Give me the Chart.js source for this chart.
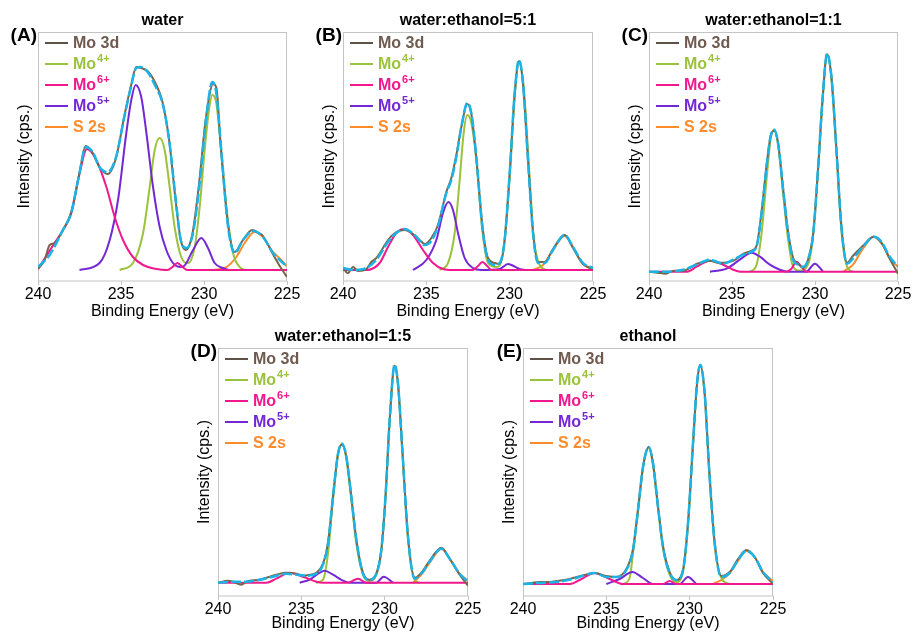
<!DOCTYPE html>
<html>
<head>
<meta charset="utf-8">
<script src="https://cdn.jsdelivr.net/npm/chart.js@4.4.1/dist/chart.umd.min.js"></script>
<style>
body { margin: 0; width: 913px; height: 633px; background: #fff; position: relative; overflow: hidden; font-family: "Liberation Sans", Arial, sans-serif; }
canvas { position: absolute; }
.letter { position: absolute; font-weight: bold; font-size: 19px; line-height: 19px; text-align: right; width: 40px; color: #000; }
.ttl { position: absolute; font-weight: bold; font-size: 16px; line-height: 20px; text-align: center; width: 300px; color: #000; white-space: nowrap; }
.leg { position: absolute; font-weight: bold; font-size: 16px; }
.leg .row { height: 20.8px; display: flex; align-items: center; white-space: nowrap; }
.leg .ln { display: inline-block; width: 23px; height: 2px; margin-right: 5px; }
.leg sup { font-size: 11px; vertical-align: 0; position: relative; top: -7px; margin-left: 1px; }
</style>
</head>
<body>
<script>
// x ticks (binding energy, eV) and series names
const energyTicks = [240, 235, 230, 225];
const seriesNames = ['Mo 3d', 'Mo4+', 'Mo6+', 'Mo5+', 'S 2s'];

// values: [binding energy, intensity above baseline]

// (A) water
const aEnv = [[240,3],[239.3,15],[238.5,40],[238,57],[237.5,97],[237.13,123],[236.7,118],[236.3,103],[235.8,98],[235.3,113],[234.8,153],[234.4,183],[234.08,202],[233.8,203],[233.4,198],[232.9,183],[232.5,167],[232.1,130],[231.7,70],[231.4,30],[231.06,22],[230.66,37],[230.26,87],[229.86,153],[229.5,188],[229.26,177],[228.96,120],[228.55,43],[228.15,17],[227.65,30],[227.05,39],[226.45,33],[225.84,17],[225.04,4]];
const aRaw = [[240,1],[239.6,10],[239.3,25],[239,27],[238.5,40],[238,58],[237.5,97],[237.13,124],[236.7,117],[236.3,103],[235.8,96],[235.3,112],[234.8,154],[234.4,184],[234.08,203],[233.8,202],[233.4,199],[232.9,186],[232.5,168],[232.1,130],[231.7,68],[231.4,30],[231.1,20],[230.7,36],[230.3,86],[229.9,150],[229.45,186],[229.25,182],[229,125],[228.55,45],[228.15,18],[227.65,30],[227.1,40],[226.7,37],[226.45,34],[225.85,16],[225.4,3],[225,-7]];
const aMo4 = [[235.08,0],[234.28,7],[233.67,37],[233.27,83],[232.97,120],[232.67,132],[232.37,120],[232.07,83],[231.77,43],[231.37,13],[230.96,7],[230.56,23],[230.26,63],[229.96,120],[229.7,160],[229.5,175],[229.26,167],[228.96,120],[228.65,63],[228.25,17],[227.85,3],[227.55,0]];
const aMo6 = [[240,1],[239.5,14],[239,27],[238.49,40],[237.99,57],[237.49,97],[237.05,121],[236.49,110],[235.88,83],[235.38,53],[234.88,30],[234.28,13],[233.67,5],[232.87,1],[232.2,0],[231.9,3],[231.6,7],[231.3,3],[231.0,0],[225,0]];
const aMo5 = [[237.5,0],[236.29,7],[235.68,30],[235.18,70],[234.68,137],[234.38,170],[234.12,185],[233.78,173],[233.47,137],[233.07,83],[232.67,43],[232.27,20],[231.87,7],[231.47,3],[231.2,4],[230.66,20],[230.16,32],[229.76,22],[229.36,7],[228.86,2],[228.5,0]];
const aS2s = [[229.46,0],[228.65,3],[228.05,13],[227.55,27],[226.95,38],[226.45,33],[225.94,20],[225.34,10],[225.04,4]];

// (B) water:ethanol=5:1
const bEnv = [[240,2],[239.4,0],[238.6,2],[238,10],[237.3,28],[236.8,37],[236.3,41],[235.7,35],[235.1,25],[234.7,29],[234.3,44],[233.8,77],[233.5,90],[233.2,113],[232.9,143],[232.54,167],[232.3,157],[232,113],[231.64,43],[231.3,10],[230.9,5],[230.6,7],[230.3,30],[230,97],[229.7,177],[229.44,210],[229.2,187],[228.9,110],[228.6,37],[228.3,7],[227.9,7],[227.4,20],[226.7,35],[226.2,23],[225.6,7],[225,2]];
const bRaw = [[240,2],[239.7,-3],[239.4,3],[239.1,-1],[238.6,1],[238.3,8],[238,12],[237.6,22],[237.3,30],[236.8,38],[236.3,40],[235.8,36],[235.4,30],[235.1,26],[234.7,32],[234.3,45],[233.8,78],[233.5,92],[233.2,115],[232.9,143],[232.54,166],[232.3,156],[232,112],[231.64,45],[231.3,12],[230.9,7],[230.6,6],[230.3,30],[230,96],[229.7,176],[229.44,209],[229.2,186],[228.9,110],[228.6,38],[228.3,8],[227.9,8],[227.4,21],[226.7,35],[226.2,22],[225.6,6],[225,1]];
const bMo4 = [[234.2,0],[233.7,7],[233.3,37],[233,90],[232.76,137],[232.54,155],[232.3,147],[232,110],[231.64,40],[231.3,7],[230.8,3],[230.4,17],[230,93],[229.7,173],[229.44,208],[229.16,183],[228.84,103],[228.56,33],[228.2,5],[227.8,0]];
const bMo6 = [[240,0],[238.6,0],[237.8,7],[237.3,23],[236.8,37],[236.3,41],[235.8,35],[235.2,20],[234.6,7],[234,1],[233.4,0],[232.2,0],[231.9,4],[231.64,8],[231.35,4],[231.1,0],[225,0]];
const bMo5 = [[235.8,0],[235,10],[234.4,30],[234,57],[233.68,68],[233.4,60],[233.1,37],[232.7,12],[232.2,2],[231.7,0],[230.6,1],[230.1,6],[229.4,1],[229,0]];
const bS2s = [[228.6,0],[228,5],[227.4,20],[226.7,34],[226.2,23],[225.7,8],[225.2,2],[225,1]];

// (C) water:ethanol=1:1
const cEnv = [[240,0],[238.94,0],[237.93,2],[237.13,7],[236.33,12],[235.53,8],[234.93,12],[234.33,17],[233.82,20],[233.52,25],[233.22,58],[232.92,105],[232.68,135],[232.46,142],[232.22,128],[231.92,82],[231.62,38],[231.32,12],[231.02,7],[230.72,5],[230.42,12],[230.11,38],[229.81,105],[229.55,172],[229.27,218],[229.01,195],[228.71,122],[228.41,45],[228.07,8],[227.71,13],[227.11,25],[226.46,35],[226,30],[225.5,15],[225,5]];
const cRaw = [[240,0],[239.5,-1],[239,-2],[238.5,1],[237.9,1],[237.5,4],[237.1,8],[236.3,11],[235.9,9],[235.5,9],[234.9,11],[234.3,18],[233.82,21],[233.52,26],[233.22,60],[232.92,106],[232.68,135],[232.46,141],[232.22,128],[231.92,83],[231.62,40],[231.32,14],[231.02,8],[230.72,4],[230.42,12],[230.11,38],[229.81,104],[229.55,171],[229.27,217],[229.01,195],[228.71,123],[228.41,46],[228.07,9],[227.71,16],[227.11,26],[226.46,35],[226,29],[225.5,13],[225,-2]];
const cMo4 = [[233.96,0],[233.56,5],[233.22,38],[232.92,92],[232.68,132],[232.46,142],[232.22,127],[231.92,78],[231.62,32],[231.32,5],[230.92,1],[230.42,7],[230.11,37],[229.81,103],[229.55,170],[229.27,218],[229.01,193],[228.71,120],[228.41,42],[228.07,5],[227.71,0]];
const cMo6 = [[240,0],[237.7,0],[237.13,5],[236.33,11],[235.53,7],[234.93,2],[234.5,0],[231.72,0],[231.42,3],[231.12,10],[230.82,5],[230.52,0],[225,0]];
const cMo5 = [[236.33,0],[235.33,3],[234.53,12],[233.82,19],[233.32,15],[232.72,7],[232.12,2],[231.6,0],[230.52,0],[230.01,8],[229.51,0]];
const cS2s = [[228.31,0],[227.71,7],[227.11,23],[226.46,35],[225.94,27],[225.44,12],[225,5]];

// (D) water:ethanol=1:5
const dEnv = [[240,0],[239.1,1],[238.3,1],[237.5,3],[236.7,6],[235.9,9],[235.3,8],[234.7,7],[234.1,9],[233.7,18],[233.4,39],[233.1,86],[232.8,129],[232.56,139],[232.3,126],[232,86],[231.7,43],[231.3,9],[230.9,3],[230.5,9],[230.2,33],[229.94,89],[229.7,163],[229.4,218],[229.2,199],[228.94,133],[228.6,46],[228.2,4],[227.8,9],[227.3,21],[226.6,34],[226.1,24],[225.5,9],[225,1]];
const dRaw = [[240,0],[239.4,2],[239.1,1],[238.6,-2],[238.3,1],[237.5,3],[236.9,6],[236.5,8],[235.9,10],[235.3,9],[234.9,7],[234.5,8],[234.1,10],[233.7,19],[233.4,40],[233.1,86],[232.8,129],[232.56,138],[232.3,126],[232,86],[231.7,43],[231.3,10],[230.9,3],[230.5,9],[230.2,33],[229.94,89],[229.7,163],[229.4,217],[229.2,199],[228.94,133],[228.6,46],[228.2,5],[227.8,10],[227.3,22],[226.6,35],[226.1,24],[225.5,8],[225,-3]];
const dMo4 = [[234.1,0],[233.7,3],[233.4,29],[233.1,83],[232.8,128],[232.56,139],[232.3,124],[232,83],[231.7,39],[231.3,8],[230.9,2],[230.5,8],[230.2,31],[229.94,88],[229.7,161],[229.4,217],[229.2,198],[228.94,131],[228.6,44],[228.2,3],[227.9,0]];
const dMo6 = [[240,0],[237.1,0],[236.5,4],[235.7,10],[234.9,6],[234.1,1],[233.7,0],[232.2,0],[231.6,4],[231.1,0],[225,0]];
const dMo5 = [[235.1,0],[234.5,3],[233.9,10],[233.6,12],[233.1,8],[232.5,2],[232.1,0],[230.5,0],[230.06,6],[229.5,0]];
const dS2s = [[228.3,0],[227.8,8],[227.3,20],[226.6,34],[226.1,24],[225.5,9],[225,2]];

// (E) ethanol
const eEnv = [[240,0],[239,1],[238,2],[237,5],[236.3,9],[235.7,11],[235,7],[234.4,7],[233.8,14],[233.4,34],[233.1,74],[232.8,117],[232.46,137],[232.2,121],[231.9,77],[231.6,37],[231.2,11],[230.8,4],[230.4,14],[230.1,61],[229.8,141],[229.56,201],[229.36,219],[229.1,191],[228.84,117],[228.5,41],[228.1,7],[227.6,11],[227.1,24],[226.6,33],[226.1,27],[225.6,12],[225,2]];
const eRaw = [[240,0],[239.5,1],[239,2],[238.5,2],[238,3],[237.5,4],[237,6],[236.3,9],[235.7,11],[235,8],[234.4,7],[233.8,15],[233.4,35],[233.1,75],[232.8,117],[232.46,137],[232.2,121],[231.9,78],[231.6,38],[231.2,12],[230.8,4],[230.4,14],[230.1,61],[229.8,140],[229.56,200],[229.36,219],[229.1,191],[228.84,118],[228.5,42],[228.1,8],[227.6,12],[227.1,25],[226.6,34],[226.1,27],[225.6,11],[225,0]];
const eMo4 = [[234,0],[233.6,6],[233.4,31],[233.1,72],[232.8,116],[232.46,136],[232.2,119],[231.9,76],[231.6,36],[231.2,9],[230.8,2],[230.4,12],[230.1,59],[229.8,139],[229.56,199],[229.36,218],[229.1,189],[228.84,116],[228.5,39],[228.1,6],[227.6,0]];
const eMo6 = [[240,0],[237.2,0],[236.6,4],[235.7,11],[234.8,5],[234,0],[231.6,0],[231.2,3],[230.8,0],[225,0]];
const eMo5 = [[235,0],[234.2,5],[233.44,12],[232.8,6],[232.2,0],[230.6,0],[230.1,7],[229.6,0]];
const eS2s = [[228.6,0],[228.1,4],[227.6,11],[227.1,23],[226.6,33],[226.1,27],[225.6,12],[225,3]];

const colors = {
  env: '#1cb3e6', raw: '#7a6449', mo4: '#9bc23c', mo6: '#f0188c', mo5: '#7428d4', s2s: '#ff8b2b'
};

const panels = [
  { letter: '(A)', title: 'water', left: 38, top: 32, w: 249, h: 249, xH: 40, yMin: -11, yMax: 238,
    env: aEnv, raw: aRaw, mo4: aMo4, mo6: aMo6, mo5: aMo5, s2s: aS2s },
  { letter: '(B)', title: 'water:ethanol=5:1', left: 343, top: 32, w: 250, h: 249, xH: 40, yMin: -11, yMax: 238,
    env: bEnv, raw: bRaw, mo4: bMo4, mo6: bMo6, mo5: bMo5, s2s: bS2s },
  { letter: '(C)', title: 'water:ethanol=1:1', left: 649, top: 32, w: 249, h: 249, xH: 40, yMin: -9.3, yMax: 239.7,
    env: cEnv, raw: cRaw, mo4: cMo4, mo6: cMo6, mo5: cMo5, s2s: cS2s },
  { letter: '(D)', title: 'water:ethanol=1:5', left: 218, top: 348, w: 250, h: 248, xH: 37, yMin: -13.3, yMax: 234.7,
    env: dEnv, raw: dRaw, mo4: dMo4, mo6: dMo6, mo5: dMo5, s2s: dS2s },
  { letter: '(E)', title: 'ethanol', left: 523, top: 348, w: 250, h: 248, xH: 37, yMin: -12, yMax: 236,
    env: eEnv, raw: eRaw, mo4: eMo4, mo6: eMo6, mo5: eMo5, s2s: eS2s }
];

const boxPlugin = {
  id: 'box',
  beforeDatasetsDraw(chart) {
    const { ctx, chartArea: a } = chart;
    ctx.save();
    ctx.strokeStyle = '#c4c4c4';
    ctx.lineWidth = 1;
    ctx.strokeRect(a.left + 0.5, a.top + 0.5, a.width - 1, a.height - 0.5);
    ctx.restore();
  }
};

function line(data, color, width, dash) {
  return {
    data: data,
    borderColor: color,
    borderWidth: width,
    borderDash: dash || [],
    pointRadius: 0,
    fill: false,
    cubicInterpolationMode: 'monotone'
  };
}

function addLegend(p) {
  const leg = document.createElement('div');
  leg.className = 'leg';
  leg.style.left = (p.left + 7) + 'px';
  leg.style.top = (p.top + 1) + 'px';
  const rows = [
    ['#5f5048', '#6f5a50', 'Mo 3d', ''],
    [colors.mo4, colors.mo4, 'Mo', '4+'],
    [colors.mo6, colors.mo6, 'Mo', '6+'],
    [colors.mo5, colors.mo5, 'Mo', '5+'],
    [colors.s2s, colors.s2s, 'S 2s', '']
  ];
  rows.forEach(r => {
    const d = document.createElement('div');
    d.className = 'row';
    d.style.color = r[1];
    d.innerHTML = '<span class="ln" style="background:' + r[0] + '"></span><span>' + r[2] +
      (r[3] ? '<sup>' + r[3] + '</sup>' : '') + '</span>';
    leg.appendChild(d);
  });
  document.body.appendChild(leg);
}

const yW = 30, padTop = 2, padRight = 16;

panels.forEach(p => {
  const cv = document.createElement('canvas');
  cv.width = yW + p.w + padRight;
  cv.height = padTop + p.h + p.xH;
  cv.style.left = (p.left - yW) + 'px';
  cv.style.top = (p.top - padTop) + 'px';
  document.body.appendChild(cv);

  new Chart(cv.getContext('2d'), {
    type: 'line',
    data: {
      datasets: [
        line(p.env, colors.env, 2.5, [10, 3]),
        line(p.raw, colors.raw, 2),
        line(p.mo6, colors.mo6, 2),
        line(p.mo5, colors.mo5, 2),
        line(p.mo4, colors.mo4, 2),
        line(p.s2s, colors.s2s, 2)
      ]
    },
    options: {
      responsive: false,
      animation: false,
      events: [],
      layout: { padding: { top: padTop, right: padRight, left: 0, bottom: 0 } },
      plugins: { legend: { display: false }, tooltip: { enabled: false } },
      scales: {
        x: {
          type: 'linear',
          reverse: true,
          min: 225,
          max: 240,
          afterFit: s => { s.height = p.xH; },
          afterBuildTicks: s => { s.ticks = energyTicks.map(v => ({ value: v })); },
          grid: { drawOnChartArea: false, drawTicks: true, tickLength: 4, color: '#c4c4c4' },
          border: { display: false },
          ticks: { color: '#000', padding: 1, maxRotation: 0, font: { family: '"Liberation Sans", Arial, sans-serif', size: 16, lineHeight: 1.1 } },
          title: { display: true, text: 'Binding Energy (eV)', color: '#000', padding: { top: 0, bottom: 0 },
                   font: { family: '"Liberation Sans", Arial, sans-serif', size: 16 } }
        },
        y: {
          min: p.yMin,
          max: p.yMax,
          afterFit: s => { s.width = yW; },
          grid: { display: false },
          border: { display: false },
          ticks: { display: false },
          title: { display: true, text: 'Intensity (cps.)', color: '#000', padding: { top: 7, bottom: 0 },
                   font: { family: '"Liberation Sans", Arial, sans-serif', size: 16 } }
        }
      }
    },
    plugins: [boxPlugin]
  });

  const lt = document.createElement('div');
  lt.className = 'letter';
  lt.textContent = p.letter;
  lt.style.left = (p.left - 41) + 'px';
  lt.style.top = (p.top - 7) + 'px';
  document.body.appendChild(lt);

  const tt = document.createElement('div');
  tt.className = 'ttl';
  tt.textContent = p.title;
  tt.style.left = (p.left + p.w / 2 - 150) + 'px';
  tt.style.top = (p.top - 22) + 'px';
  document.body.appendChild(tt);

  addLegend(p);
});
</script>
</body>
</html>
